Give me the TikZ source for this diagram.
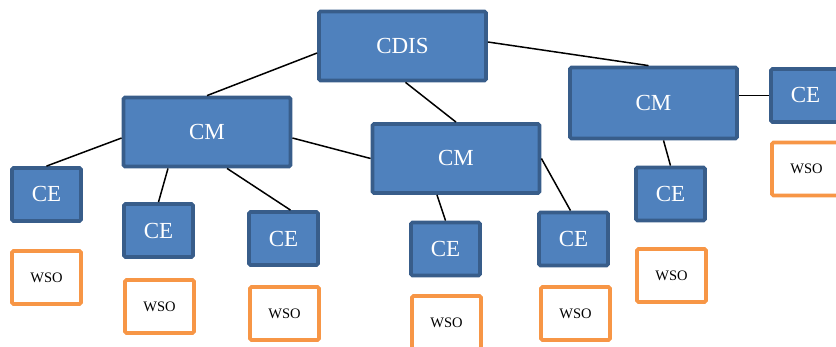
\documentclass[tikz,border=0pt]{standalone}
\usepackage{fontspec}
\setmainfont{Liberation Serif}
\definecolor{azul}{HTML}{4F81BD}
\definecolor{azulescuro}{HTML}{385D8A}
\definecolor{laranja}{HTML}{F79646}
\begin{document}
\begin{tikzpicture}[x=1pt, y=-1pt, %Escala em pixels, eixo y para baixo
	caixa/.style={draw=azulescuro, line width=3.8pt, fill=azul, rounded corners=1.5pt, text=white, font=\fontsize{23}{23}\selectfont, minimum width=167pt, minimum height=69pt, inner sep=0pt},
	ce/.style={caixa, minimum width=69pt, minimum height=53pt},
	wso/.style={draw=laranja, line width=3.8pt, fill=white, rounded corners=1.5pt, font=\fontsize{14.5}{14.5}\selectfont, minimum width=69pt, minimum height=53pt, inner sep=0pt},
	liga/.style={line width=1.5pt, black}]
	\useasboundingbox (0,0) rectangle (836,347); %Margens da figura
		%Caixas principais
	\node[caixa] (cdis) at (402.5,46) {CDIS}; %Raiz
	\node[caixa] (cm1) at (207,132) {CM}; %CM da esquerda
	\node[caixa] (cm2) at (456,158.5) {CM}; %CM do meio
	\node[caixa, minimum height=71pt] (cm3) at (653.5,103) {CM}; %CM da direita
		%Caixas CE
	\node[ce] (ce1) at (46.5,194.5) {CE};
	\node[ce] (ce2) at (158.5,230.5) {CE};
	\node[ce] (ce3) at (283.5,238.5) {CE};
	\node[ce] (ce4) at (445.5,249) {CE};
	\node[ce] (ce5) at (573.5,239) {CE};
	\node[ce] (ce6) at (670.5,194) {CE};
	\node[ce] (ce7) at (805.5,95.5) {CE}; %CE cortada na borda
		%Caixas WSO
	\node[wso] (wso1) at (46.5,277.5) {WSO};
	\node[wso] (wso2) at (159.5,306.5) {WSO};
	\node[wso] (wso3) at (284.5,313.5) {WSO};
	\node[wso] (wso4) at (446.5,322.5) {WSO};
	\node[wso] (wso5) at (575.5,313.5) {WSO};
	\node[wso] (wso6) at (671.5,275.5) {WSO};
	\node[wso] (wso7) at (806.5,169) {WSO};
		%Ligacoes
	\draw[liga] ([yshift=-7pt]cdis.west) -- (cm1.north); %CDIS - CM esquerda
	\draw[liga] ([xshift=3pt]cdis.south) -- (cm2.north); %CDIS - CM meio
	\draw[liga] ([yshift=4pt]cdis.east) -- ([xshift=-5pt]cm3.north); %CDIS - CM direita
	\draw[liga] ([yshift=-6pt]cm1.west) -- (ce1.north);
	\draw[liga] ([xshift=-39pt]cm1.south) -- (ce2.north);
	\draw[liga] ([xshift=20pt]cm1.south) -- ([xshift=7pt]ce3.north);
	\draw[liga] ([yshift=-6pt]cm1.east) -- (cm2.west); %CM esquerda - CM meio
	\draw[liga] ([xshift=-19pt]cm2.south) -- (ce4.north);
	\draw[liga] (cm2.east) -- ([xshift=-3pt]ce5.north);
	\draw[liga] ([xshift=10pt]cm3.south) -- (ce6.north);
	\draw[liga] (cm3.east |- ce7.west) -- (ce7.west);
\end{tikzpicture}
\end{document}
